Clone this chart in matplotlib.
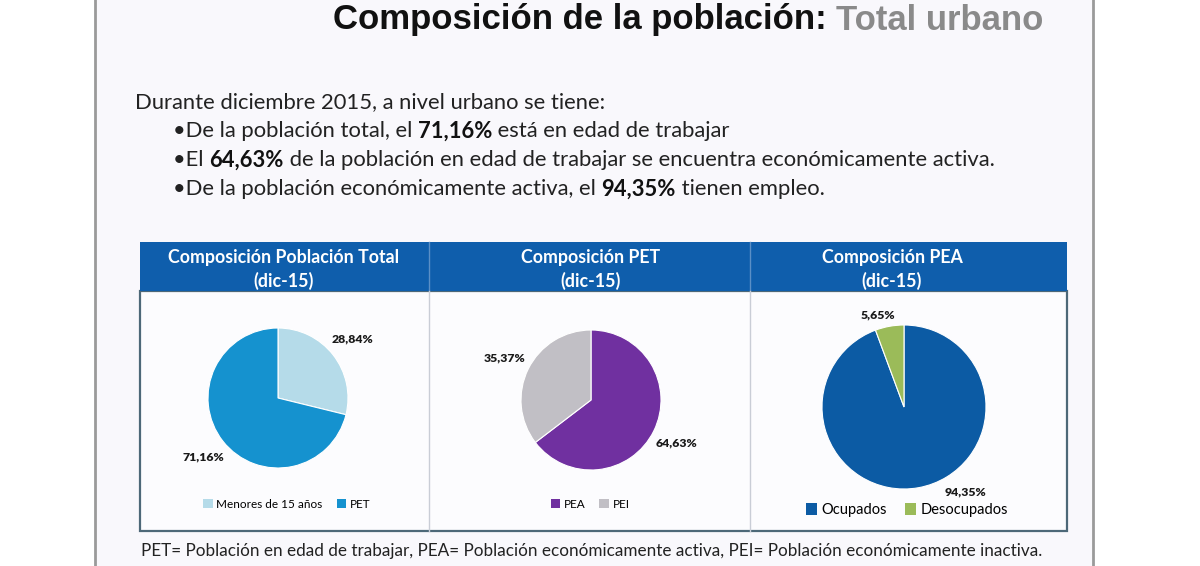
import matplotlib
matplotlib.use("Agg")
import numpy as np
import matplotlib.pyplot as plt
from matplotlib.patches import Rectangle, Patch

# data
pt_labels = ["Menores de 15 años", "PET"]
pt_values = [28.84, 71.16]
pet_labels = ["PEA", "PEI"]
pet_values = [64.63, 35.37]
pea_labels = ["Ocupados", "Desocupados"]
pea_values = [94.35, 5.65]

headers = ["Composición Población Total", "Composición PET", "Composición PEA"]
period = "(dic-15)"

W, H = 1200, 566
fig = plt.figure(figsize=(W / 100, H / 100), dpi=100, facecolor="white")
bg = fig.add_axes([0, 0, 1, 1])
bg.set_xlim(0, W)
bg.set_ylim(H, 0)
bg.axis("off")

BODY = "Lato"
rend = fig.canvas.get_renderer()


def rich(x, y, parts, size, family=BODY):
    # draw a line made of runs, some bold
    for s, bold, col in parts:
        t = bg.text(x, y, s, fontsize=size, family=family, color=col,
                    fontweight="bold" if bold else "normal", va="center", ha="left")
        x += t.get_window_extent(renderer=rend).width


# slide area and border
bg.add_patch(Rectangle((95, 0), 998, H, facecolor="#f9f8fc", edgecolor="none"))
bg.plot([95, 95], [0, H], color="#9a9a9a", lw=2)
bg.plot([1093, 1093], [0, H], color="#9a9a9a", lw=2)

# title
rich(333, 20, [("Composición de la población: ", True, "#111111"),
               ("Total urbano", True, "#8a8a8a")], 25, family="Liberation Sans")

# text block
dark = "#222222"
rich(135, 102, [("Durante diciembre 2015, a nivel urbano se tiene:", False, dark)], 15.8)
rich(173, 131, [("•De la población total, el ", False, dark), ("71,16%", True, "#111111"),
                (" está en edad de trabajar", False, dark)], 15.8)
rich(173, 160, [("•El ", False, dark), ("64,63%", True, "#111111"),
                (" de la población en edad de trabajar se encuentra económicamente activa.", False, dark)], 15.8)
rich(173, 189, [("•De la población económicamente activa, el ", False, dark), ("94,35%", True, "#111111"),
                (" tienen empleo.", False, dark)], 15.8)

# table frame
x0, x1 = 140, 1067
cols = [140, 429, 750, 1067]
bg.add_patch(Rectangle((x0, 291), x1 - x0, 240, facecolor="#fcfcfe", edgecolor="#4d6878", lw=1.6))
bg.add_patch(Rectangle((x0, 242), x1 - x0, 49, facecolor="#0f5eac", edgecolor="none"))
for cx in cols[1:3]:
    bg.plot([cx, cx], [242, 291], color="#5b8fc6", lw=1)
    bg.plot([cx, cx], [291, 531], color="#c9cdd6", lw=1)
head_x = [284, 591, 892]
for hx, h in zip(head_x, headers):
    bg.text(hx, 258, h, fontsize=12.8, family=BODY, fontweight="bold", color="white", ha="center", va="center")
    bg.text(hx, 281, period, fontsize=12.8, family=BODY, fontweight="bold", color="white", ha="center", va="center")

# footer
bg.text(592, 551, "PET= Población en edad de trabajar, PEA= Población económicamente activa, "
        "PEI= Población económicamente inactiva.", fontsize=12.3, family=BODY, color=dark,
        ha="center", va="center")


def fmt(p):
    return f"{p:.2f}%".replace(".", ",")


panels = [
    (pt_values, pt_labels, ["#b5dbe9", "#1592cf"], (278, 398), 70, 1.36, None, (287, 504), 8.5),
    (pet_values, pet_labels, ["#7030a0", "#c1bfc5"], (591, 400), 70, 1.37, None, (590, 504), 8.5),
    (pea_values, pea_labels, ["#0c5ba4", "#9bbb59"], (904, 407), 82, 1.3,
     [(-54, 1.28), (106, 1.17)], (907, 510), 10.5),
]

for vals, labs, cols_, (cx, cy), r, pd, lab_pos, (lx, ly), lsize in panels:
    half = 1.25 * r
    ax = fig.add_axes([(cx - half) / W, 1 - (cy + half) / H, 2 * half / W, 2 * half / H])
    wedges, _, autotexts = ax.pie(vals, colors=cols_, startangle=90, counterclock=False,
                                  autopct=fmt, pctdistance=pd,
                                  wedgeprops=dict(edgecolor="white", linewidth=0.8),
                                  textprops=dict(fontsize=8.8, fontweight="heavy", family=BODY, color="#1a1a1a"))
    if lab_pos is not None:
        for t, (ang, d) in zip(autotexts, lab_pos):
            a = np.deg2rad(ang)
            t.set_position((d * np.cos(a), d * np.sin(a)))
    handles = [Patch(facecolor=c, edgecolor="none") for c in cols_]
    fig.legend(handles, labs, loc="center", bbox_to_anchor=(lx / W, 1 - ly / H), ncol=2,
               frameon=False, handlelength=0.8, handleheight=0.8, handletextpad=0.3,
               columnspacing=1.2, prop=dict(family=BODY, size=lsize))

fig.savefig("out.png", dpi=100, facecolor=fig.get_facecolor())
